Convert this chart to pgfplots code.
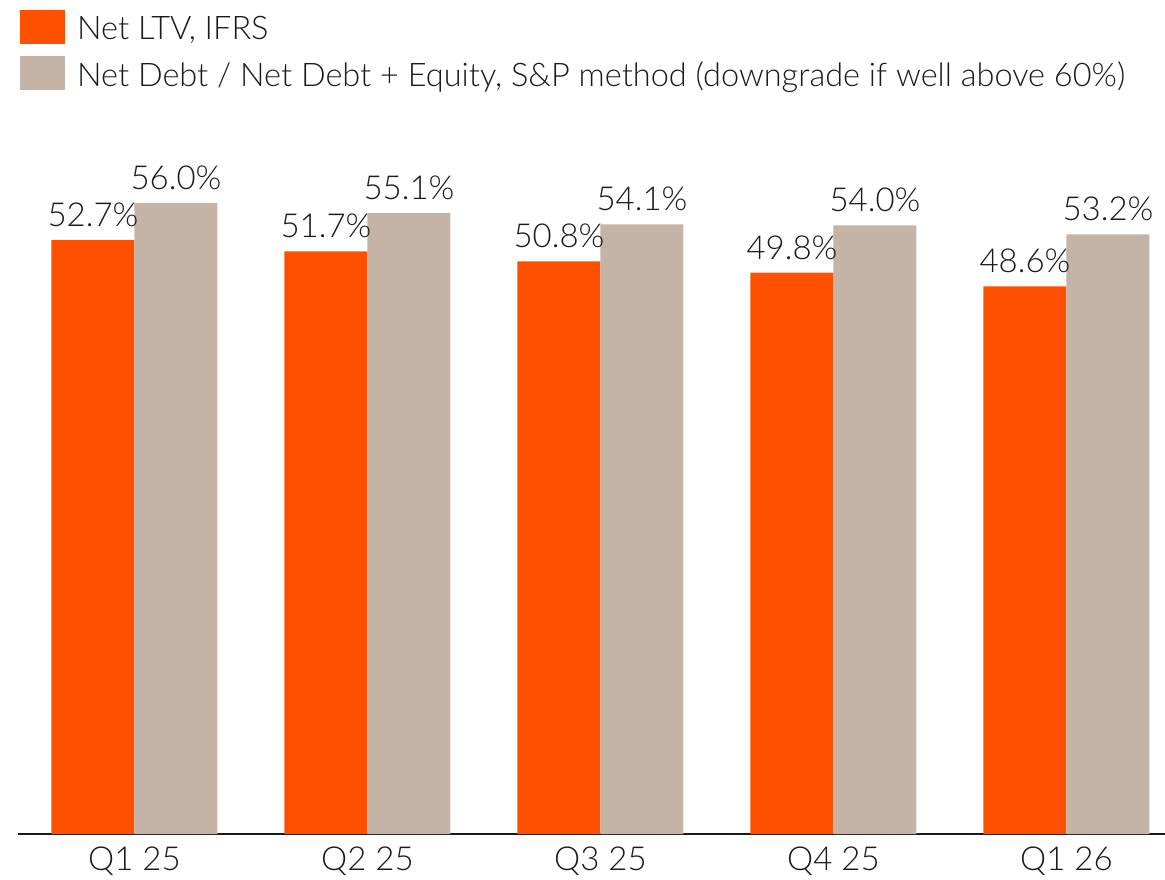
\documentclass[border=0pt]{standalone}
\usepackage{fontspec}
\setmainfont{Lato Light}
\usepackage{pgfplots}
\pgfplotsset{compat=1.18}
\definecolor{orng}{HTML}{FF5000}
\definecolor{beige}{HTML}{C5B3A5}
\definecolor{txt}{HTML}{1A1A1A}
\begin{document}
\begin{tikzpicture}[x=1pt,y=1pt]
\useasboundingbox (0,0) rectangle (1165,879);
\begin{axis}[
  at={(18pt,45pt)}, anchor=south west, scale only axis,
  width=1147pt, height=834pt,
  xmin=-0.5, xmax=4.423, ymin=0, ymax=74,
  ybar=0pt, bar width=83pt,
  axis x line=bottom, axis y line=none,
  x axis line style={-, draw=txt, line width=1.5pt},
  xtick={0,1,2,3,4},
  xticklabels={Q1 25, Q2 25, Q3 25, Q4 25, Q1 26},
  major tick length=0pt,
  ytick=\empty,
  xticklabel style={font=\fontsize{33}{33}\selectfont, text=txt, yshift=-9pt},
  /pgf/number format/assume math mode=true,
  nodes near coords={\pgfmathprintnumber[fixed,fixed zerofill,precision=1]{\pgfplotspointmeta}\%},
  nodes near coords style={font=\fontsize{33}{33}\selectfont, text=txt, anchor=south, inner sep=0pt, yshift=13pt},
  legend image code/.code={\fill[#1] (0pt,-15.5pt) rectangle (45pt,18.5pt);},
  legend style={at={(0.0017,0.988)}, anchor=north west, draw=none, fill=none,
    inner sep=0pt, row sep=12pt, column sep=12pt,
    nodes={inner sep=0pt, font=\fontsize{32.5}{32.5}\selectfont, text=txt},
    cells={anchor=base west}},
  legend cell align=left,
]
\addplot[draw=none, fill=orng] coordinates {(0,52.7) (1,51.7) (2,50.8) (3,49.8) (4,48.6)};
\addplot[draw=none, fill=beige] coordinates {(0,56.0) (1,55.1) (2,54.1) (3,54.0) (4,53.2)};
\legend{{Net LTV, IFRS}, {Net Debt / Net Debt + Equity, S\&P method (downgrade if well above 60\%)}}
\end{axis}
\end{tikzpicture}
\end{document}
